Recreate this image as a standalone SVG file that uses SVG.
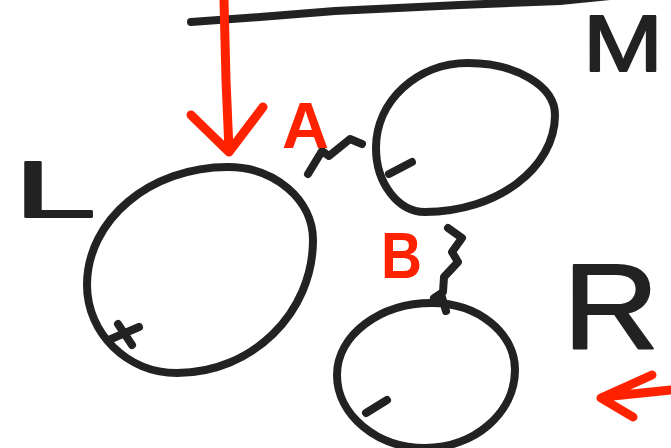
<svg xmlns="http://www.w3.org/2000/svg" width="671" height="448" viewBox="0 0 671 448">
<style>
.ink{fill:none;stroke:#222;stroke-width:8;stroke-linecap:round;stroke-linejoin:round}
.red{fill:none;stroke:#ff2200;stroke-width:9;stroke-linecap:round;stroke-linejoin:round}
.lbl{font-family:"Liberation Sans",Arial,sans-serif;fill:#222;stroke:#222;stroke-width:2;stroke-linejoin:round}
.rlbl{font-family:"Liberation Sans",Arial,sans-serif;font-weight:bold;fill:#ff2200}
</style>
<rect width="671" height="448" fill="#fff"/>
<g id="top-line">
<path class="ink" d="M191,22 L260,17 L335,11 L460,5 L560,1 L610,-4"/>
</g>
<g id="node-L">
<path class="ink" d="M228,167 C275,167 313,200 313,240 C313,313 252,373 177,373 C127,373 87,333 87,285 C87,220 150,167 228,167 Z"/>
<path class="ink" d="M118,324 L132,345 M111,339 L139,327"/>
<text class="lbl" x="14" y="217" font-size="80" textLength="82" lengthAdjust="spacingAndGlyphs">L</text>
</g>
<g id="node-M">
<path class="ink" d="M468,63 C516,63 555,86 555,115 C555,168 497,212 425,212 C398,212 376,183 376,148 C376,101 417,63 468,63 Z"/>
<path class="ink" d="M389,174 L412,162"/>
<text class="lbl" x="583" y="71" font-size="80" textLength="80" lengthAdjust="spacingAndGlyphs">M</text>
</g>
<g id="node-R">
<path class="ink" d="M432,303 C478,303 515,333 515,370 C515,413 474,448 425,448 C377,448 337,415 337,375 C337,335 380,303 432,303 Z"/>
<path class="ink" d="M366,413 L387,400"/>
<text class="lbl" x="563" y="349" font-size="120" textLength="96" lengthAdjust="spacingAndGlyphs">R</text>
</g>
<g id="connectors">
<path class="red" d="M224,0 L226,80 L229,150 M191,115 L229,152 L263,107"/>
<path class="ink" d="M308,174 L322,151 L329,156 L350,139 L362,144"/>
<path class="ink" d="M448,228 L462,238 L452,252 L458,262 L444,277 L443,292 L434,298 M441,294 L446,311"/>
<path class="red" d="M652,375 L601,398 L633,417 M603,397 L671,390"/>
<text class="rlbl" x="282" y="148" font-size="64" textLength="47" lengthAdjust="spacingAndGlyphs">A</text>
<text class="rlbl" x="381" y="278" font-size="64" textLength="41" lengthAdjust="spacingAndGlyphs">B</text>
</g>
</svg>
